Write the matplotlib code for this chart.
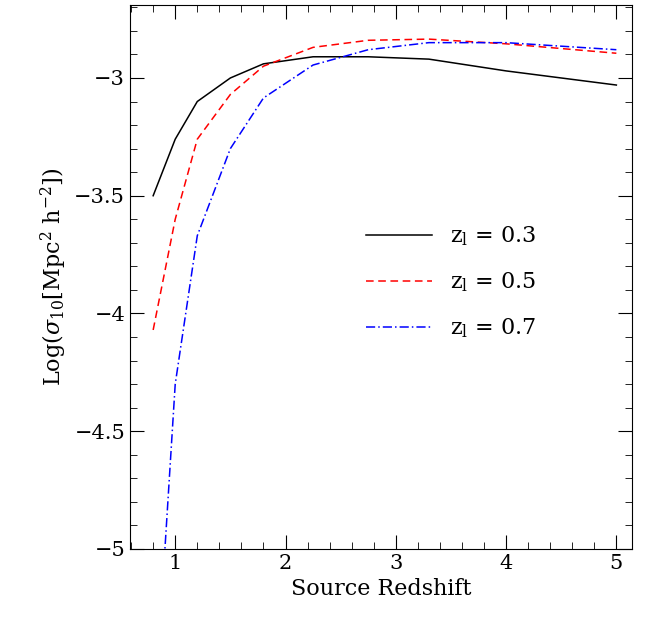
import matplotlib
import matplotlib.pyplot as plt
from matplotlib.ticker import MultipleLocator

matplotlib.use("Agg")
plt.rcParams["font.family"] = ["DejaVu Serif"]
plt.rcParams["mathtext.fontset"] = "dejavuserif"

zs = [0.8, 1.0, 1.2, 1.5, 1.8, 2.25, 2.75, 3.3, 4.0, 5.0]
sig_03 = [-3.50, -3.26, -3.10, -3.00, -2.94, -2.91, -2.91, -2.92, -2.97, -3.03]
sig_05 = [-4.07, -3.60, -3.26, -3.07, -2.95, -2.87, -2.84, -2.835, -2.855, -2.895]
zs_07 = [0.9, 1.0, 1.2, 1.5, 1.8, 2.25, 2.75, 3.3, 4.0, 5.0]
sig_07 = [-5.05, -4.30, -3.67, -3.30, -3.085, -2.945, -2.88, -2.85, -2.85, -2.88]

fig = plt.figure(figsize=(6.5, 6.21), dpi=100)
ax = fig.add_axes([0.2, 0.116, 0.772, 0.876])

ax.plot(zs, sig_03, color="black", lw=1.1, ls="-", label=r"z$_{\rm l}$ = 0.3")
ax.plot(zs, sig_05, color="red", lw=1.1, ls=(0, (5, 3)), label=r"z$_{\rm l}$ = 0.5")
ax.plot(zs_07, sig_07, color="blue", lw=1.1, ls=(0, (6, 2, 1, 2)), label=r"z$_{\rm l}$ = 0.7")

ax.set_xlim(0.59, 5.14)
ax.set_ylim(-5, -2.69)
ax.xaxis.set_major_locator(MultipleLocator(1))
ax.xaxis.set_minor_locator(MultipleLocator(0.2))
ax.yaxis.set_major_locator(MultipleLocator(0.5))
ax.yaxis.set_minor_locator(MultipleLocator(0.1))
ax.tick_params(which="both", direction="in", top=True, right=True, labelsize=15)
ax.tick_params(which="major", length=10)
ax.tick_params(which="minor", length=5)
ax.set_yticks([-5, -4.5, -4, -3.5, -3])
ax.set_yticklabels(["\u22125", "\u22124.5", "\u22124", "\u22123.5", "\u22123"])

ax.set_xlabel("Source Redshift", fontsize=16)
ax.set_ylabel(r"Log($\sigma_{10}$[Mpc$^2$ h$^{-2}$])", fontsize=16)

ax.legend(frameon=False, fontsize=16, loc="center left",
          bbox_to_anchor=(0.43, 0.49), handlelength=3.0, labelspacing=1.0)

plt.savefig("out.png")
plt.close()
